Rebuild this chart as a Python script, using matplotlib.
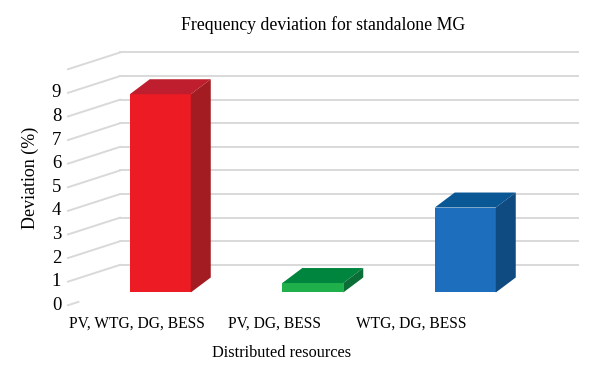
import matplotlib
matplotlib.use("Agg")
import matplotlib.pyplot as plt
from matplotlib.patches import Polygon

categories = ["PV, WTG, DG, BESS", "PV, DG, BESS", "WTG, DG, BESS"]
deviation = [8.4, 0.4, 3.6]
tick_values = [0, 1, 2, 3, 4, 5, 6, 7, 8, 9]
grid_top = 10

front_colors = ["#ed1c24", "#1fb04b", "#1d6fbe"]
top_colors = ["#be1e2d", "#00853e", "#0a5796"]
side_colors = ["#a21c22", "#0b6e36", "#0f4a80"]

# fake 3D geometry (data units)
bar_w = 0.4
depth_dx, depth_dy = 0.131, 0.636
back_dy = 0.17
front_dy = -0.54
wall_front_x, wall_back_x, wall_right_x = -0.605, -0.264, 2.739

plt.rcParams["font.family"] = ["Liberation Serif", "DejaVu Serif"]

fig = plt.figure(figsize=(6, 3.79), dpi=100)
ax = fig.add_axes([0.0638, 0.166, 0.9277, 0.7223])
ax.set_xlim(-0.8, 2.85)
ax.set_ylim(-1.0, 10.6)
ax.axis("off")

grid_c = "#d9d9d9"
for v in range(0, grid_top + 1):
    if v > 0:
        ax.plot([wall_back_x, wall_right_x], [v + back_dy, v + back_dy],
                color=grid_c, lw=1.4, zorder=1)
        ax.plot([wall_front_x, wall_back_x], [v + front_dy, v + back_dy],
                color=grid_c, lw=1.4, zorder=1)
    else:
        x2 = wall_front_x + 0.2 * (wall_back_x - wall_front_x)
        y2 = front_dy + 0.2 * (back_dy - front_dy)
        ax.plot([wall_front_x, x2], [front_dy, y2], color=grid_c, lw=1.4, zorder=1)

for v in tick_values:
    ax.text(wall_front_x - 0.045, v + front_dy, str(v), ha="right", va="center",
            fontsize=13.5)

xs = list(range(len(categories)))
ax.bar(xs, deviation, width=bar_w, color=front_colors, zorder=3)
for x, h, tc, sc in zip(xs, deviation, top_colors, side_colors):
    l, r = x - bar_w / 2, x + bar_w / 2
    top = Polygon([(l, h), (r, h), (r + depth_dx, h + depth_dy), (l + depth_dx, h + depth_dy)],
                  closed=True, fc=tc, ec="none", zorder=3)
    side = Polygon([(r, 0), (r + depth_dx, depth_dy), (r + depth_dx, h + depth_dy), (r, h)],
                   closed=True, fc=sc, ec="none", zorder=3)
    ax.add_patch(top)
    ax.add_patch(side)

for i, c in enumerate(categories):
    ax.text(-0.153 + 0.899 * i, -1.34, c, ha="center", va="center", fontsize=11.2)

fig.text(0.05, 0.53, "Deviation (%)", rotation=90, ha="center", va="center", fontsize=13)
fig.text(0.47, 0.068, "Distributed resources", ha="center", va="center", fontsize=11.7)
fig.text(0.538, 0.934, "Frequency deviation for standalone MG", ha="center", va="center",
         fontsize=12.8)

fig.savefig("out.png", dpi=100)
